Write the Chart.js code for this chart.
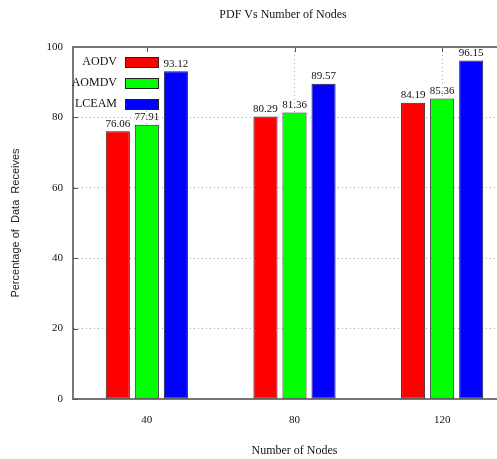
<!DOCTYPE html>
<html>
<head>
<meta charset="utf-8">
<title>PDF Vs Number of Nodes</title>
<script src="https://cdn.jsdelivr.net/npm/chart.js@4.4.1/dist/chart.umd.min.js"></script>
<style>
    html, body { margin: 0; padding: 0; background: #fff; overflow: hidden; }
    #wrap { width: 520px; height: 459px; }
</style>
</head>
<body>
<div id="wrap"><canvas id="pdf-chart" width="520" height="459"></canvas></div>
<script>
const nodeCounts = ['40', '80', '120'];
const aodvValues = [76.06, 80.29, 84.19];
const aomdvValues = [77.91, 81.36, 85.36];
const lceamValues = [93.12, 89.57, 96.15];
const yTicks = [0, 20, 40, 60, 80, 100];

const SERIF = '"Liberation Serif", "Times New Roman", serif';

// gnuplot style key: text on the left, boxes on the right, drawn over the grid
const plotKey = {
    id: 'plotKey',
    afterDatasetsDraw(chart) {
        const ctx = chart.ctx;
        const area = chart.chartArea;
        ctx.save();
        ctx.fillStyle = '#fff';
        ctx.fillRect(area.left + 2, area.top + 4, 88, 60);
        ctx.font = '12px ' + SERIF;
        ctx.textAlign = 'right';
        ctx.textBaseline = 'middle';
        chart.data.datasets.forEach(function(ds, i) {
            const cy = area.top + 15 + i * 21;
            ctx.fillStyle = '#111';
            ctx.fillText(ds.label, area.left + 44, cy);
            ctx.fillStyle = ds.backgroundColor;
            ctx.fillRect(area.left + 52, cy - 5, 33, 10);
            ctx.strokeStyle = '#222';
            ctx.lineWidth = 1;
            ctx.strokeRect(area.left + 52.5, cy - 4.5, 33, 10);
        });
        ctx.restore();
    }
};

// values above each bar
const valueLabels = {
    id: 'valueLabels',
    afterDatasetsDraw(chart) {
        const ctx = chart.ctx;
        ctx.save();
        ctx.font = '11px ' + SERIF;
        ctx.fillStyle = '#111';
        ctx.textAlign = 'center';
        ctx.textBaseline = 'bottom';
        chart.data.datasets.forEach(function(ds, i) {
            chart.getDatasetMeta(i).data.forEach(function(bar, j) {
                ctx.fillText(ds.data[j].toFixed(2), bar.x, bar.y - 2);
            });
        });
        ctx.restore();
    }
};

// inward ticks, top/right border and the title
const plotFrame = {
    id: 'plotFrame',
    afterDraw(chart) {
        const ctx = chart.ctx;
        const area = chart.chartArea;
        const x = chart.scales.x;
        const y = chart.scales.y;
        ctx.save();
        ctx.strokeStyle = '#555';
        ctx.lineWidth = 1;
        yTicks.forEach(function(v) {
            const py = Math.round(y.getPixelForValue(v)) + 0.5;
            ctx.beginPath();
            ctx.moveTo(area.left, py);
            ctx.lineTo(area.left + 5, py);
            ctx.moveTo(area.right, py);
            ctx.lineTo(area.right - 5, py);
            ctx.stroke();
        });
        nodeCounts.forEach(function(c, i) {
            const px = Math.round(x.getPixelForValue(i)) + 0.5;
            ctx.beginPath();
            ctx.moveTo(px, area.top);
            ctx.lineTo(px, area.top + 5);
            ctx.stroke();
        });

        ctx.strokeStyle = '#777';
        ctx.lineWidth = 2;
        ctx.beginPath();
        ctx.moveTo(area.left, area.top);
        ctx.lineTo(area.right, area.top);
        ctx.lineTo(area.right, area.bottom);
        ctx.stroke();

        ctx.font = '12px ' + SERIF;
        ctx.fillStyle = '#111';
        ctx.textAlign = 'center';
        ctx.textBaseline = 'middle';
        ctx.fillText('PDF Vs Number of Nodes', 283, 15);
        ctx.restore();
    }
};

const barStyle = {
    borderColor: '#222',
    borderWidth: 1,
    borderSkipped: false,
    categoryPercentage: 0.59,
    barPercentage: 0.83
};

new Chart(document.getElementById('pdf-chart'), {
    type: 'bar',
    data: {
        labels: nodeCounts,
        datasets: [
            Object.assign({ label: 'AODV', data: aodvValues, backgroundColor: '#ff0000' }, barStyle),
            Object.assign({ label: 'AOMDV', data: aomdvValues, backgroundColor: '#00ff00' }, barStyle),
            Object.assign({ label: 'LCEAM', data: lceamValues, backgroundColor: '#0000ff' }, barStyle)
        ]
    },
    options: {
        responsive: false,
        animation: false,
        layout: { padding: { top: 47, right: 4, left: 0, bottom: 0 } },
        plugins: {
            legend: { display: false },
            title: { display: false },
            tooltip: { enabled: false }
        },
        scales: {
            x: {
                afterFit: function(scale) { scale.height = 60; },
                grid: {
                    offset: false,
                    drawTicks: false,
                    color: '#aaa',
                    lineWidth: 1
                },
                border: { display: true, color: '#777', width: 2, dash: [1, 3] },
                ticks: {
                    padding: 15,
                    color: '#111',
                    font: { family: SERIF, size: 11 }
                },
                title: {
                    display: true,
                    text: 'Number of Nodes',
                    color: '#111',
                    font: { family: SERIF, size: 12 },
                    padding: { top: 0, bottom: 1 }
                }
            },
            y: {
                min: 0,
                max: 100,
                afterFit: function(scale) { scale.width = 73; },
                grid: {
                    drawTicks: false,
                    color: function(ctx) {
                        return (ctx.tick.value === 0 || ctx.tick.value === 100) ? 'rgba(0,0,0,0)' : '#aaa';
                    },
                    lineWidth: 1
                },
                border: { display: true, color: '#777', width: 2, dash: [1, 3] },
                ticks: {
                    stepSize: 20,
                    padding: 10,
                    color: '#111',
                    font: { family: SERIF, size: 11 }
                },
                title: {
                    display: true,
                    text: 'Percentage of  Data  Receives',
                    color: '#222',
                    font: { family: '"Liberation Sans", Arial, sans-serif', size: 11 },
                    padding: { top: 9, bottom: 0 }
                }
            }
        }
    },
    plugins: [plotKey, valueLabels, plotFrame]
});
</script>
</body>
</html>
